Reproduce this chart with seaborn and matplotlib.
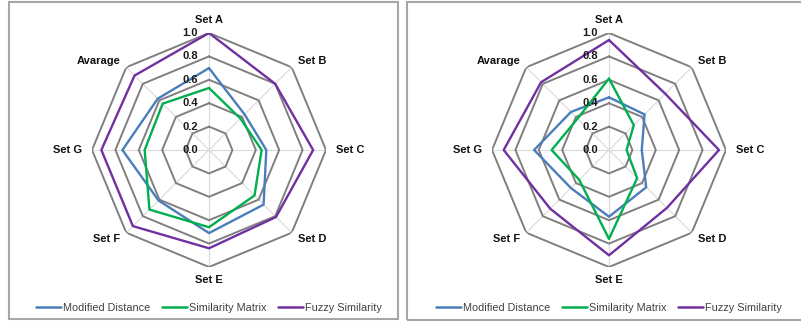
import numpy as np
import pandas as pd
import matplotlib
matplotlib.use("Agg")
import matplotlib.pyplot as plt
from matplotlib.patches import Rectangle
import seaborn as sns

categories = ["Set A", "Set B", "Set C", "Set D", "Set E", "Set F", "Set G", "Avarage"]
series_names = ["Modified Distance", "Similarity Matrix", "Fuzzy Similarity"]

left_modified = [0.70, 0.43, 0.49, 0.66, 0.71, 0.61, 0.74, 0.62]
left_similarity = [0.53, 0.38, 0.45, 0.55, 0.66, 0.72, 0.55, 0.56]
left_fuzzy = [1.00, 0.80, 0.89, 0.81, 0.84, 0.92, 0.92, 0.90]

right_modified = [0.45, 0.43, 0.28, 0.45, 0.57, 0.46, 0.64, 0.46]
right_similarity = [0.61, 0.30, 0.15, 0.34, 0.76, 0.36, 0.49, 0.38]
right_fuzzy = [0.94, 0.68, 0.94, 0.70, 0.90, 0.71, 0.90, 0.82]

radial_ticks = [0.0, 0.2, 0.4, 0.6, 0.8, 1.0]
radial_labels = ["0.0", "0.2", "0.4", "0.6", "0.8", "1.0"]

colors = {"Modified Distance": "#4a7ebb", "Similarity Matrix": "#00b050",
          "Fuzzy Similarity": "#7030a0"}

sns.set_theme(style="white")
plt.rcParams["font.family"] = ["Liberation Sans", "DejaVu Sans"]

W, H = 801, 329
fig = plt.figure(figsize=(W / 100, H / 100), dpi=100)

n = len(categories)
theta = np.linspace(0, 2 * np.pi, n, endpoint=False)
theta_closed = np.append(theta, 2 * np.pi)


def build_df(vals_list):
    rows = []
    for name, vals in zip(series_names, vals_list):
        closed = list(vals) + [vals[0]]
        for i, (t, v) in enumerate(zip(theta_closed, closed)):
            rows.append({"theta": t, "value": v, "series": name, "order": i})
    return pd.DataFrame(rows)


def draw_panel(cx, data_lists, legend_cx, box):
    R = 117
    cy = 150
    ax = fig.add_axes([(cx - R) / W, (H - cy - R) / H, 2 * R / W, 2 * R / H],
                      projection="polar")
    ax.set_theta_offset(np.pi / 2)
    ax.set_theta_direction(-1)
    ax.set_ylim(0, 1)
    ax.grid(False)
    ax.spines["polar"].set_visible(False)
    ax.set_xticks([])
    ax.set_yticks([])
    ax.patch.set_alpha(0)

    # spokes
    for t in theta:
        ax.plot([t, t], [0, 1.0], color="#d9d9d9", lw=0.8, zorder=1)
    # octagonal rings
    for r in radial_ticks[1:]:
        ax.plot(theta_closed, [r] * (n + 1), color="#7f7f7f", lw=1.4, zorder=2)

    df = build_df(data_lists)
    sns.lineplot(data=df, x="theta", y="value", hue="series", palette=colors,
                 sort=False, estimator=None, units="series", lw=1.7, ax=ax,
                 legend=True, zorder=4)
    handles, labels = ax.get_legend_handles_labels()
    if ax.get_legend() is not None:
        ax.get_legend().remove()
    ax.set_xlabel("")
    ax.set_ylabel("")

    # radial tick labels
    for r, lab in zip(radial_ticks, radial_labels):
        ax.annotate(lab, xy=(0, r), xytext=(-8.0, 0), textcoords="offset points",
                    ha="right", va="center", fontsize=8, fontweight="bold",
                    color="#1a1a1a", zorder=5)

    # category labels
    for t, cat in zip(theta, categories):
        deg = np.degrees(t) % 360
        if deg == 0:
            ha, va, rr = "center", "bottom", 1.07
        elif deg == 180:
            ha, va, rr = "center", "top", 1.07
        elif deg == 90:
            ha, va, rr = "left", "center", 1.085
        elif deg == 270:
            ha, va, rr = "right", "center", 1.085
        elif deg < 180:
            ha, va, rr = "left", "center", 1.07
        else:
            ha, va, rr = "right", "center", 1.07
        ax.text(t, rr, cat, ha=ha, va=va, fontsize=8, fontweight="bold",
                color="#111111", clip_on=False)

    leg = fig.legend(handles, labels, loc="center",
                     bbox_to_anchor=(legend_cx / W, 1 - 308 / H), ncol=3,
                     frameon=False, fontsize=7.8, handlelength=2.3,
                     handletextpad=0.15, columnspacing=1.1, borderaxespad=0)
    for txt in leg.get_texts():
        txt.set_color("#404040")
    for line in leg.get_lines():
        line.set_linewidth(1.8)

    x0, y0, x1, y1 = box
    fig.patches.append(Rectangle((x0 / W, 1 - y1 / H), (x1 - x0) / W, (y1 - y0) / H,
                                 transform=fig.transFigure, fill=False,
                                 edgecolor="#a6a6a6", lw=1.5))


draw_panel(209, [left_modified, left_similarity, left_fuzzy], 209, (9, 2, 398, 319))
draw_panel(609, [right_modified, right_similarity, right_fuzzy], 609, (407, 2, 803, 320))

fig.savefig("out.png", dpi=100)
